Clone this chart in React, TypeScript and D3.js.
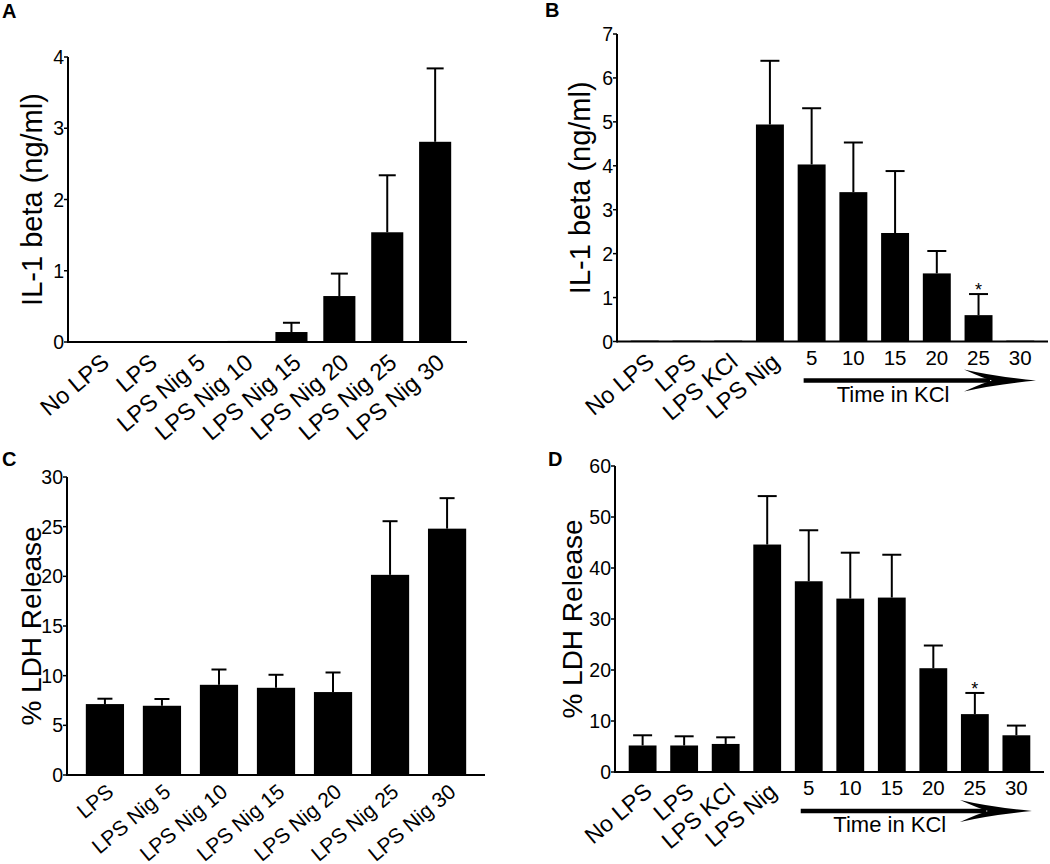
import React from "react";
import * as d3 from "d3";

// ---------- DATA ----------
const catsA = ["No LPS", "LPS", "LPS Nig 5", "LPS Nig 10", "LPS Nig 15", "LPS Nig 20", "LPS Nig 25", "LPS Nig 30"];
const meanA = [0, 0.01, 0.01, 0.015, 0.14, 0.645, 1.54, 2.81];
const semA = [0, 0, 0, 0, 0.13, 0.315, 0.8, 1.03];
const ticksA = [0, 1, 2, 3, 4];

const catsB = ["No LPS", "LPS", "LPS KCl", "LPS Nig", "5", "10", "15", "20", "25", "30"];
const meanB = [0.02, 0.02, 0.02, 4.94, 4.03, 3.4, 2.47, 1.55, 0.6, 0.02];
const semB = [0, 0, 0, 1.45, 1.28, 1.13, 1.41, 0.51, 0.48, 0];
const ticksB = [0, 1, 2, 3, 4, 5, 6, 7];
const starB = [8];

const catsC = ["LPS", "LPS Nig 5", "LPS Nig 10", "LPS Nig 15", "LPS Nig 20", "LPS Nig 25", "LPS Nig 30"];
const meanC = [7.14, 6.97, 9.08, 8.78, 8.35, 20.15, 24.8];
const semC = [0.54, 0.68, 1.54, 1.31, 1.97, 5.4, 3.07];
const ticksC = [0, 5, 10, 15, 20, 25, 30];

const catsD = ["No LPS", "LPS", "LPS KCl", "LPS Nig", "5", "10", "15", "20", "25", "30"];
const meanD = [5.2, 5.2, 5.5, 44.6, 37.4, 34.0, 34.2, 20.35, 11.35, 7.2];
const semD = [2.0, 1.8, 1.3, 9.5, 10.0, 9.0, 8.4, 4.45, 4.15, 1.9];
const ticksD = [0, 10, 20, 30, 40, 50, 60];
const starD = [8];

const yLabelA = "IL-1 beta (ng/ml)";
const yLabelC = "% LDH Release";
const timeLabel = "Time in KCl";

const FONT = "'Liberation Sans', Arial, Helvetica, sans-serif";

type PanelProps = {
  letter: string;
  lx: number;
  ly: number;
  cats: string[];
  mean: number[];
  sem: number[];
  ticks: number[];
  stars?: number[];
  x0: number;
  x1: number;
  yTop: number;
  yBot: number;
  yLabel: string;
  yLabelX: number;
  yLabelSize: number;
  capW: number;
  rotatedCount: number;
  catSize: number;
  catDx: number;
  catDy: number;
  arrow?: boolean;
};

function Panel(p: PanelProps) {
  const x = d3
    .scaleBand<string>()
    .domain(p.cats)
    .range([p.x0, p.x1])
    .paddingInner(0.33)
    .paddingOuter(0.33);
  const ymax = p.ticks[p.ticks.length - 1];
  const y = d3.scaleLinear().domain([0, ymax]).range([p.yBot, p.yTop]);
  const bw = x.bandwidth();
  const midY = (p.yTop + p.yBot) / 2;

  const arrowY = p.yBot + 39;
  let arrowEls: React.ReactNode = null;
  if (p.arrow) {
    const xs = (x(p.cats[4]) as number) + bw / 2 - 8;
    const tip = p.x1 - 12;
    const hb = tip - 72;
    const path = `M${tip},${arrowY} Q${hb + 30},${arrowY - 4} ${hb},${arrowY - 11} Q${hb + 20},${arrowY - 2} ${hb + 28},${arrowY} Q${hb + 20},${arrowY + 2} ${hb},${arrowY + 11} Q${hb + 30},${arrowY + 4} ${tip},${arrowY} Z`;
    const cx15 = (x(p.cats[6]) as number) + bw / 2 - 2;
    arrowEls = (
      <g>
        <line x1={xs} x2={hb + 26} y1={arrowY} y2={arrowY} stroke="#000" strokeWidth={4.5} />
        <path d={path} fill="#000" />
        <text x={cx15} y={p.yBot + 60} textAnchor="middle" fontSize={22} fontFamily={FONT}>
          {timeLabel}
        </text>
      </g>
    );
  }

  return (
    <g>
      <text x={p.lx} y={p.ly} fontSize={20} fontWeight="bold" fontFamily={FONT}>
        {p.letter}
      </text>
      {/* bars */}
      {p.cats.map((c, i) => (
        <rect
          key={"b" + i}
          x={x(c)}
          y={y(p.mean[i])}
          width={bw}
          height={Math.max(0, p.yBot - y(p.mean[i]))}
          fill="#000"
        />
      ))}
      {/* error bars */}
      {p.cats.map((c, i) => {
        if (!p.sem[i]) return null;
        const cx = (x(c) as number) + bw / 2;
        const yt = y(p.mean[i] + p.sem[i]);
        return (
          <g key={"e" + i} stroke="#000" strokeWidth={2}>
            <line x1={cx} x2={cx} y1={y(p.mean[i])} y2={yt} />
            <line x1={cx - p.capW / 2} x2={cx + p.capW / 2} y1={yt} y2={yt} />
          </g>
        );
      })}
      {/* stars */}
      {(p.stars || []).map((i) => {
        const cx = (x(p.cats[i]) as number) + bw / 2;
        const yt = y(p.mean[i] + p.sem[i]);
        return (
          <text key={"s" + i} x={cx} y={yt + 2} textAnchor="middle" fontSize={18} fontFamily={FONT}>
            *
          </text>
        );
      })}
      {/* axes */}
      <line x1={p.x0} x2={p.x0} y1={p.yTop} y2={p.yBot + 1} stroke="#000" strokeWidth={2} />
      <line x1={p.x0} x2={p.x1} y1={p.yBot} y2={p.yBot} stroke="#000" strokeWidth={2} />
      {p.ticks.map((t) => (
        <g key={"t" + t}>
          <line x1={p.x0 - 4} x2={p.x0} y1={y(t)} y2={y(t)} stroke="#000" strokeWidth={1.5} />
          <text
            x={p.x0 - 4}
            y={y(t)}
            dy="0.36em"
            textAnchor="end"
            fontSize={19.5}
            fontFamily={FONT}
          >
            {t}
          </text>
        </g>
      ))}
      {/* y label */}
      <text
        transform={`translate(${p.yLabelX},${midY}) rotate(-90)`}
        textAnchor="middle"
        fontSize={p.yLabelSize}
        fontFamily={FONT}
      >
        {p.yLabel}
      </text>
      {/* x labels */}
      {p.cats.map((c, i) => {
        const cx = (x(c) as number) + bw / 2;
        if (i < p.rotatedCount) {
          return (
            <text
              key={"l" + i}
              transform={`translate(${cx + p.catDx},${p.yBot + p.catDy}) rotate(-40)`}
              textAnchor="end"
              fontSize={p.catSize}
              fontFamily={FONT}
            >
              {c}
            </text>
          );
        }
        return (
          <text key={"l" + i} x={cx} y={p.yBot + 23} textAnchor="middle" fontSize={20.5} fontFamily={FONT}>
            {c}
          </text>
        );
      })}
      {arrowEls}
    </g>
  );
}

export default function App() {
  return (
    <svg
      width={1050}
      height={864}
      style={{ position: "absolute", left: 0, top: 0, background: "#fff" }}
    >
      <rect width={1050} height={864} fill="#fff" />
      <Panel
        letter="A" lx={2} ly={18}
        cats={catsA} mean={meanA} sem={semA} ticks={ticksA}
        x0={68} x1={467} yTop={57} yBot={342}
        yLabel={yLabelA} yLabelX={42} yLabelSize={29} capW={17}
        rotatedCount={catsA.length} catSize={23.5} catDx={11} catDy={23}
      />
      <Panel
        letter="B" lx={545} ly={17}
        cats={catsB} mean={meanB} sem={semB} ticks={ticksB} stars={starB}
        x0={617} x1={1048} yTop={34} yBot={341.5}
        yLabel={yLabelA} yLabelX={590} yLabelSize={29} capW={19}
        rotatedCount={4} catSize={23.5} catDx={11} catDy={23} arrow
      />
      <Panel
        letter="C" lx={2} ly={466}
        cats={catsC} mean={meanC} sem={semC} ticks={ticksC}
        x0={67} x1={485} yTop={477} yBot={775}
        yLabel={yLabelC} yLabelX={41} yLabelSize={28} capW={15}
        rotatedCount={catsC.length} catSize={21} catDx={10} catDy={19}
      />
      <Panel
        letter="D" lx={548} ly={466}
        cats={catsD} mean={meanD} sem={semD} ticks={ticksD} stars={starD}
        x0={615} x1={1044} yTop={466} yBot={772}
        yLabel={yLabelC} yLabelX={582} yLabelSize={28} capW={19}
        rotatedCount={4} catSize={23} catDx={11} catDy={22} arrow
      />
    </svg>
  );
}
